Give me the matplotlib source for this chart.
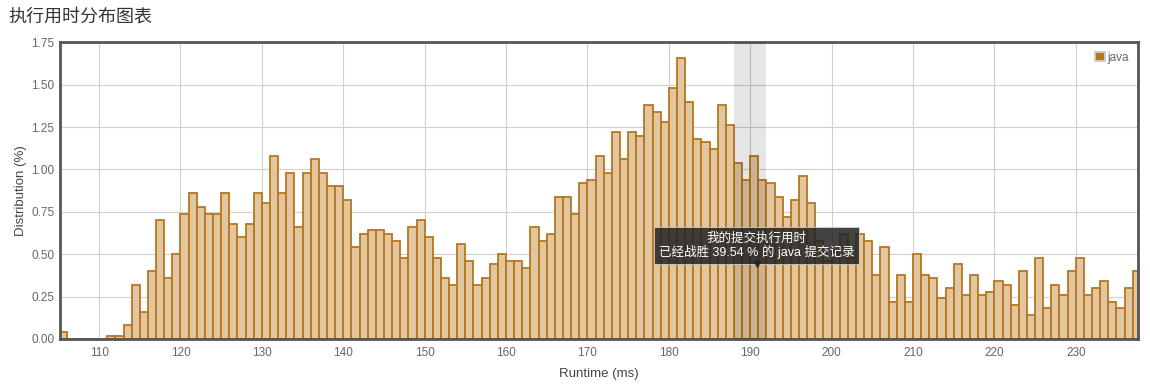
import numpy as np
import matplotlib
matplotlib.use("Agg")
import matplotlib.pyplot as plt

plt.rcParams['font.family'] = ['Liberation Sans', 'Noto Sans CJK SC', 'DejaVu Sans']

# 数据: 每 1ms 一个柱子, 从 105ms 开始
runtime_start = 105
distribution = [
    0.04, 0, 0, 0, 0, 0, 0.02, 0.02, 0.08, 0.32,          # 105-114
    0.16, 0.40, 0.70, 0.36, 0.50, 0.74, 0.86, 0.78, 0.74, 0.74,  # 115-124
    0.86, 0.68, 0.60, 0.68, 0.86, 0.80, 1.08, 0.86, 0.98, 0.66,  # 125-134
    0.98, 1.06, 0.98, 0.90, 0.90, 0.82, 0.54, 0.62, 0.64, 0.64,  # 135-144
    0.62, 0.58, 0.48, 0.66, 0.70, 0.60, 0.48, 0.36, 0.32, 0.56,  # 145-154
    0.46, 0.32, 0.36, 0.44, 0.50, 0.46, 0.46, 0.42, 0.66, 0.58,  # 155-164
    0.62, 0.84, 0.84, 0.74, 0.92, 0.94, 1.08, 0.98, 1.22, 1.06,  # 165-174
    1.22, 1.20, 1.38, 1.34, 1.28, 1.48, 1.66, 1.40, 1.18, 1.16,  # 175-184
    1.12, 1.38, 1.26, 1.04, 0.94, 1.08, 0.94, 0.92, 0.84, 0.72,  # 185-194
    0.82, 0.96, 0.80, 0.58, 0.46, 0.52, 0.62, 0.48, 0.62, 0.58,  # 195-204
    0.38, 0.54, 0.22, 0.38, 0.22, 0.50, 0.38, 0.36, 0.24, 0.30,  # 205-214
    0.44, 0.26, 0.38, 0.26, 0.28, 0.34, 0.32, 0.20, 0.40, 0.14,  # 215-224
    0.48, 0.18, 0.32, 0.26, 0.40, 0.48, 0.26, 0.30, 0.34, 0.22,  # 225-234
    0.18, 0.30, 0.40,                                              # 235-237
]
runtimes = np.arange(runtime_start, runtime_start + len(distribution))

x_ticks = list(range(110, 231, 10))
y_ticks = [0, 0.25, 0.5, 0.75, 1.0, 1.25, 1.5, 1.75]

# 我的提交所在区间和提示框
my_range = (188, 192)
tip_x = 190.8
tip_y = 0.42
tip_text = "我的提交执行用时\n已经战胜 39.54 % 的 java 提交记录"

edge_color = '#b8761e'
face_color = '#e1c6a0'
text_gray = '#666666'

fig = plt.figure(figsize=(11.5, 3.88), dpi=100)
ax = fig.add_axes([0.0522, 0.1263, 0.9374, 0.7647])

ax.bar(runtimes, distribution, width=1.0, align='edge', color=face_color,
       edgecolor=edge_color, linewidth=1.3, label='java', zorder=2)

# 高亮区间
ax.axvspan(my_range[0], my_range[1], color='black', alpha=0.1, lw=0, zorder=3)

ax.set_xlim(105.2, 237.65)
ax.set_ylim(0, 1.75)
ax.set_xticks(x_ticks)
ax.set_yticks(y_ticks)
ax.set_yticklabels(["%.2f" % v for v in y_ticks])
ax.tick_params(length=0, labelsize=8.5, labelcolor=text_gray)
ax.tick_params(axis='y', pad=4)
ax.tick_params(axis='x', pad=6)
ax.grid(True, color='#d0d0d0', linewidth=0.8, zorder=0)
ax.set_axisbelow(True)
for s in ax.spines.values():
    s.set_color('#555555')
    s.set_linewidth(2)

ax.set_xlabel("Runtime (ms)", fontsize=9.5, color='#444444', labelpad=6)
ax.set_ylabel("Distribution (%)", fontsize=9.5, color='#444444', labelpad=3)

fig.text(0.007, 0.955, "执行用时分布图表", fontsize=13, color='#333333',
         ha='left', va='center')

leg = ax.legend(loc='upper right', frameon=False, fontsize=8.5, handlelength=0.8,
                handleheight=0.8, handletextpad=0.2, borderaxespad=0.4)
for h in leg.legend_handles:
    h.set_facecolor(edge_color)
    h.set_edgecolor('#cccccc')
for t in leg.get_texts():
    t.set_color(text_gray)

# 提示框
ax.annotate(tip_text, xy=(tip_x, tip_y), xytext=(0, 6), textcoords='offset points',
            ha='center', va='bottom', fontsize=9, color='white', linespacing=1.1,
            bbox=dict(boxstyle='square,pad=0.4', fc='#222222', ec='#dddddd',
                      lw=0.6, alpha=0.85),
            zorder=5)
ax.plot([tip_x], [tip_y + 0.02], marker='v', color='#222222', markersize=5,
        alpha=0.85, zorder=5)

fig.savefig("out.png", dpi=100)
